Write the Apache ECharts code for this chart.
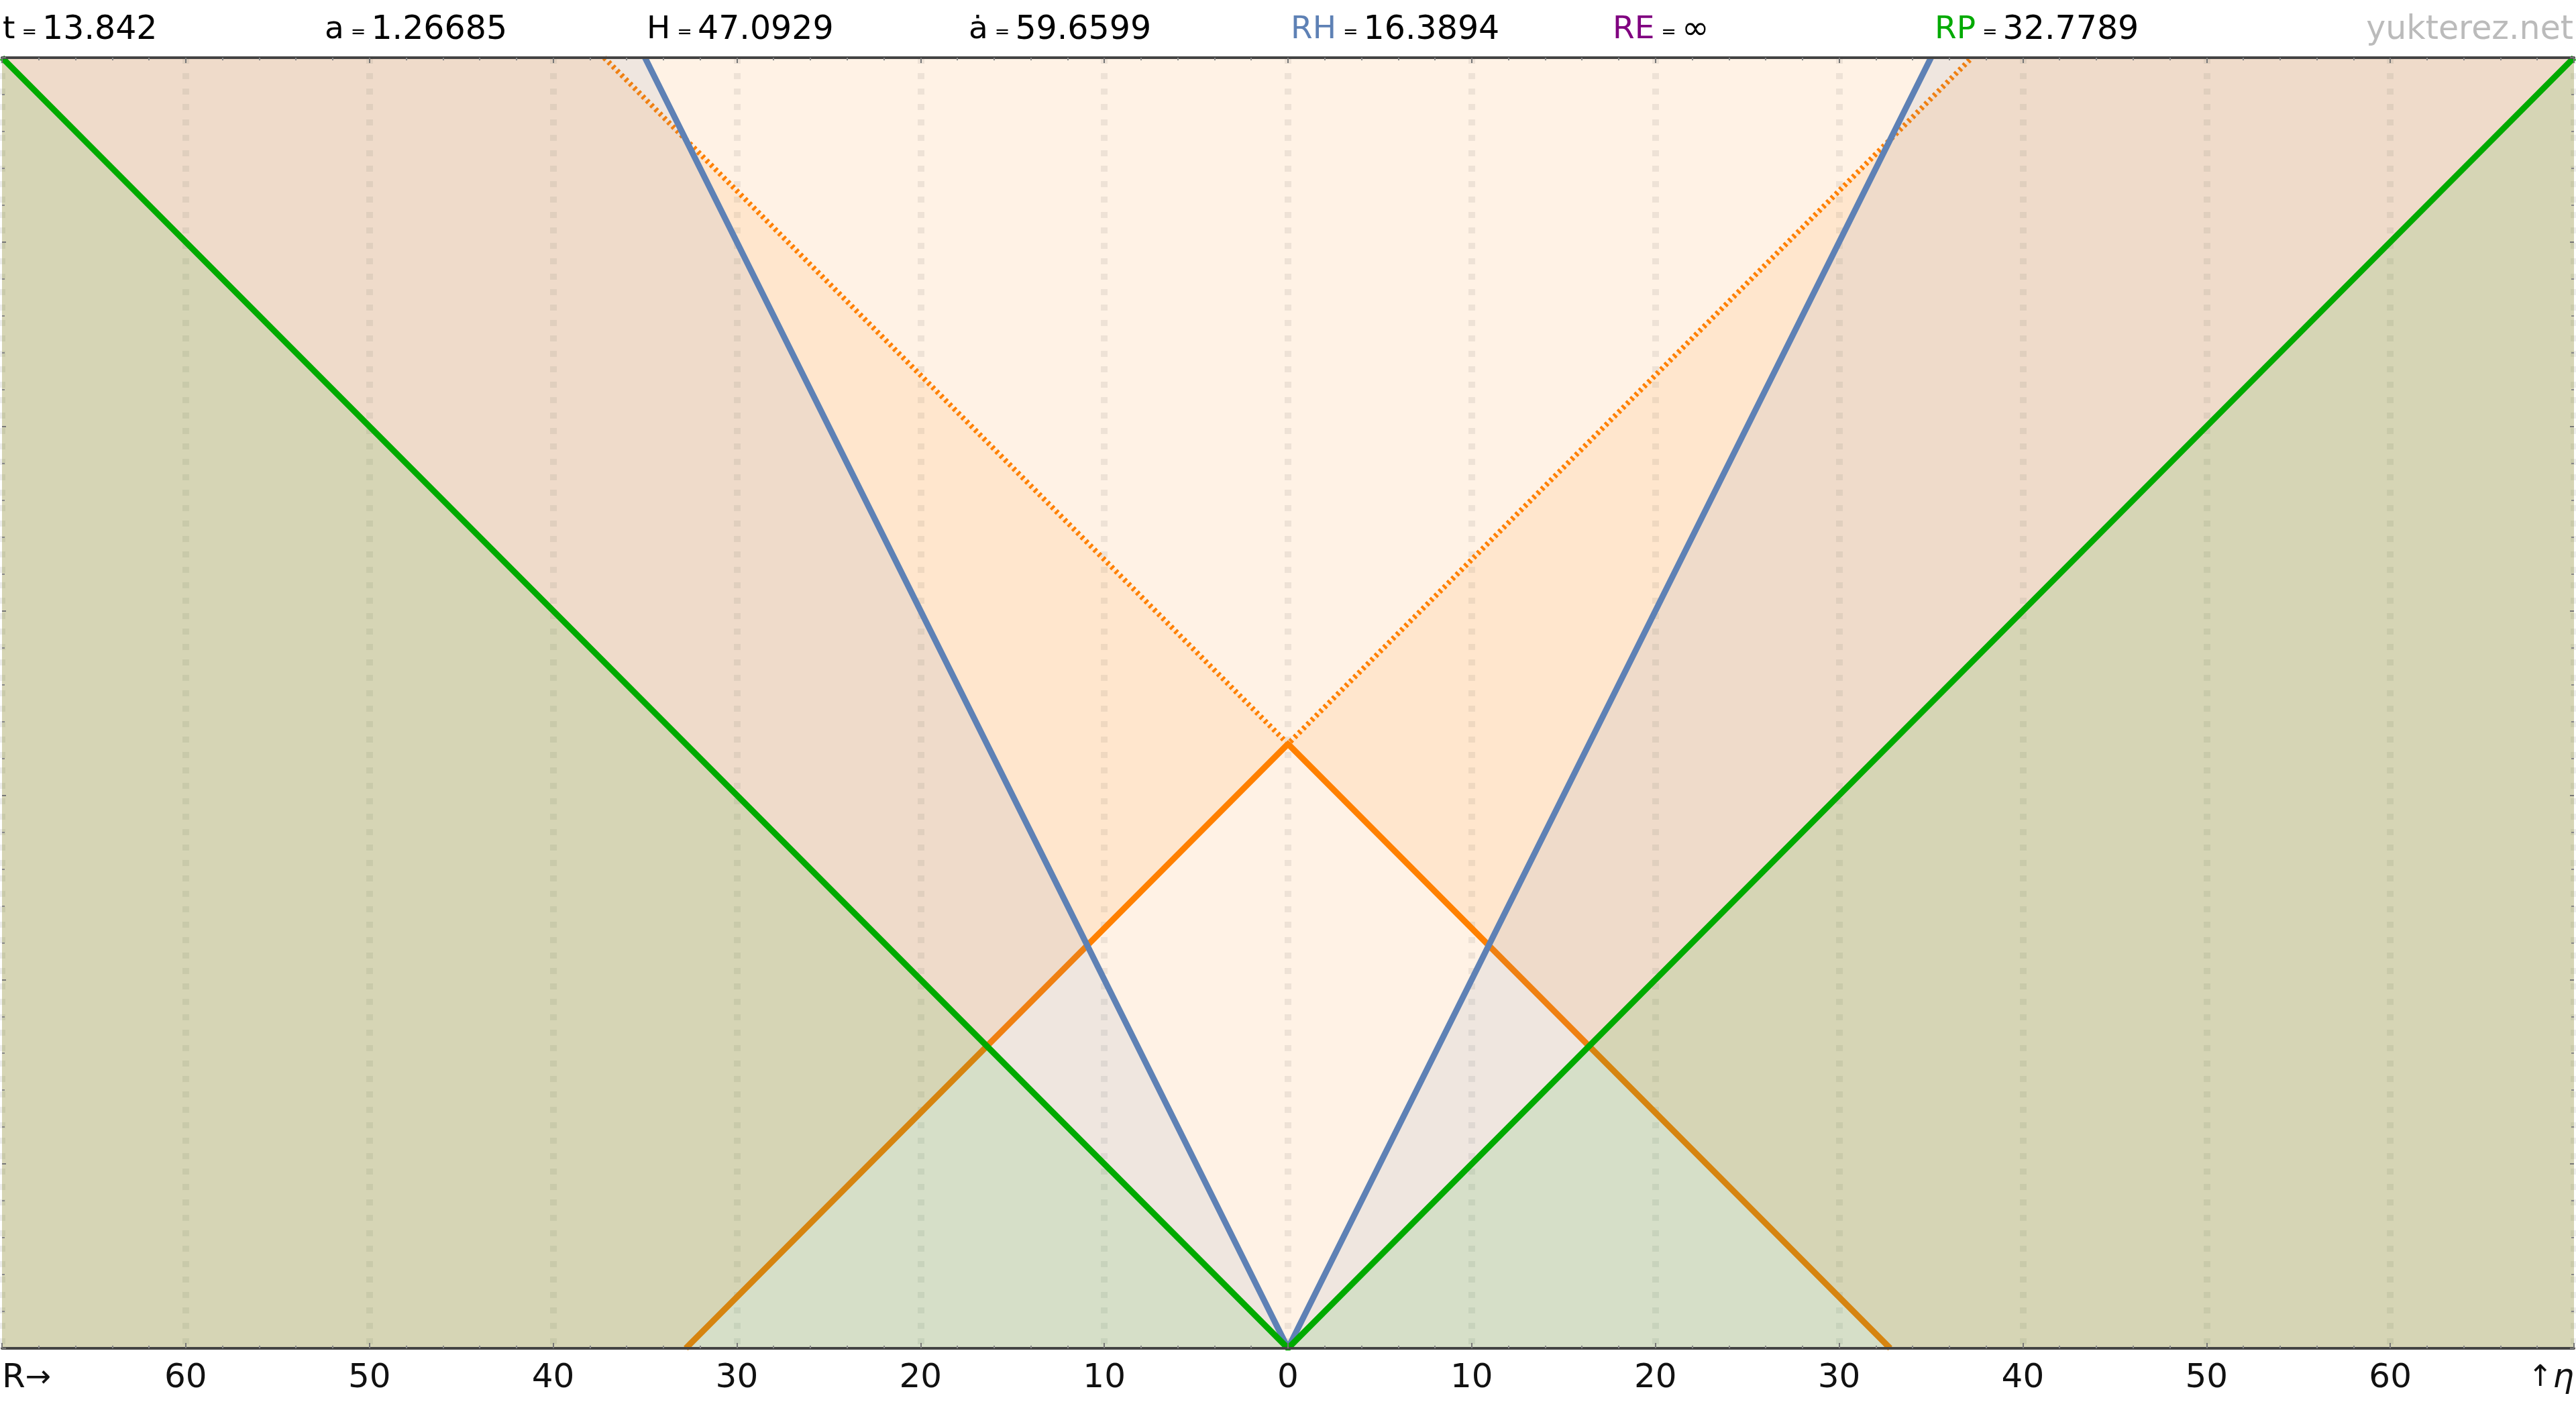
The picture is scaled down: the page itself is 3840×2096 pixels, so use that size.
<!DOCTYPE html>
<html>
<head>
<meta charset="utf-8">
<script src="https://cdn.jsdelivr.net/npm/echarts@6/dist/echarts.min.js"></script>
<style>
html,body{margin:0;padding:0;background:#fff;}
#c{width:3840px;height:2096px;}
</style>
</head>
<body>
<div id="c"></div>
<script>
// ---- data ----
const R_MIN = -70, R_MAX = 70;
const ETA_MIN = 0, ETA_MAX = 70;
const etaNow = 32.7789;     // RP (particle horizon / current conformal time)
const hubbleR = 16.3894;    // RH
const xTickLabels = ['R→','60','50','40','30','20','10','0','10','20','30','40','50','60','↑η'];
const headerNames = ['t','a','H','ȧ','RH','RE','RP'];
const headerValues = ['13.842','1.26685','47.0929','59.6599','16.3894','∞','32.7789'];
const siteLabel = 'yukterez.net';

// derived geometry (from the values above)
const blueTopX = hubbleR / etaNow * ETA_MAX;
const futureTopX = ETA_MAX - etaNow;
const mirror = pts => pts.map(p => [-p[0], p[1]]);

const greenLine = [[-ETA_MAX, ETA_MAX], [0, 0], [ETA_MAX, ETA_MAX]];
const blueLine = [[-blueTopX, ETA_MAX], [0, 0], [blueTopX, ETA_MAX]];
const orangePast = [[-etaNow, 0], [0, etaNow], [etaNow, 0]];
const orangeFuture = [[-futureTopX, ETA_MAX], [0, etaNow], [futureTopX, ETA_MAX]];

const blueRight = [[0, 0], [R_MAX, 0], [R_MAX, ETA_MAX], [blueTopX, ETA_MAX]];
const orangeRight = [[0, etaNow], [etaNow, 0], [R_MAX, 0], [R_MAX, ETA_MAX], [futureTopX, ETA_MAX]];
const greenRight = [[0, 0], [R_MAX, 0], [R_MAX, ETA_MAX]];
const blueRegion = [blueRight, mirror(blueRight)];
const orangeRegion = [orangeRight, mirror(orangeRight)];
const greenRegion = [greenRight, mirror(greenRight)];

// ---- styles ----
const C_OR = '#ff8000', C_BL = '#5e81b5', C_GR = '#00aa00', C_RE = '#800080';
const FONT = 'DejaVu Sans';

function regionSeries(polys, fill, z) {
  return {
    type: 'custom', coordinateSystem: 'cartesian2d', z: z, silent: true, clip: true,
    data: polys.map(p => p[0]),
    renderItem: function (params, api) {
      const pts = polys[params.dataIndex].map(p => api.coord(p));
      return { type: 'polygon', shape: { points: pts }, style: { fill: fill } };
    }
  };
}
function lineSeries(data, color, z, dash, width) {
  return {
    type: 'line', data: data, z: z, symbol: 'none', silent: true, clip: true,
    lineStyle: { color: color, width: width, type: dash || 'solid', cap: 'butt' }
  };
}

const tickAxisX = (pos) => ({
  type: 'value', min: R_MIN, max: R_MAX, interval: 10, position: pos, z: 10,
  axisLine: { show: true, onZero: false, lineStyle: { color: '#444', width: 4 } },
  axisTick: { show: true, inside: true, length: 8, lineStyle: { color: '#777', width: 2 } },
  minorTick: { show: true, splitNumber: 5, length: 4, lineStyle: { color: '#888', width: 2 } },
  axisLabel: { show: false }, splitLine: { show: false }
});
const tickAxisY = (pos) => ({
  type: 'value', min: ETA_MIN, max: ETA_MAX, interval: 10, position: pos, z: 10,
  axisLine: { show: false, onZero: false },
  axisTick: { show: true, inside: true, length: 6, lineStyle: { color: '#777', width: 2 } },
  minorTick: { show: true, splitNumber: 5, length: 4, lineStyle: { color: '#888', width: 2 } },
  axisLabel: { show: false }, splitLine: { show: false }
});

const NAME_SIZE = 47, VAL_SIZE = 49;
const rich = {
  n: { fontFamily: FONT, fontSize: NAME_SIZE, fill: '#000' },
  nb: { fontFamily: FONT, fontSize: NAME_SIZE, fill: C_BL },
  np: { fontFamily: FONT, fontSize: NAME_SIZE, fill: C_RE },
  ng: { fontFamily: FONT, fontSize: NAME_SIZE, fill: C_GR },
  eq: { fontFamily: FONT, fontSize: 27, fill: '#000', padding: [8, 8, 0, 10] },
  v: { fontFamily: FONT, fontSize: VAL_SIZE, fill: '#000' }
};
const nameStyle = ['n', 'n', 'n', 'n', 'nb', 'np', 'ng'];
const graphics = headerNames.map((n, i) => ({
  type: 'text', x: i * 480 + 4, y: 45, silent: true,
  style: {
    text: '{' + nameStyle[i] + '|' + n + '}{eq|=}{v|' + headerValues[i] + '}',
    rich: rich, verticalAlign: 'middle', align: 'left'
  }
}));
graphics.push({
  type: 'text', x: 3836, y: 45, silent: true,
  style: { text: siteLabel, fontFamily: FONT, fontSize: 49, fill: '#bbbbbb', align: 'right', verticalAlign: 'middle' }
});

const chart = echarts.init(document.getElementById('c'), null, { renderer: 'canvas' });
chart.setOption({
  animation: false,
  backgroundColor: '#ffffff',
  grid: { left: 0, right: 0, top: 86, bottom: 86, show: true, borderWidth: 0, backgroundColor: 'rgba(255,128,0,0.1)' },
  xAxis: [
    {
      type: 'value', min: R_MIN, max: R_MAX, interval: 10, position: 'bottom',
      axisLine: { show: false, onZero: false }, axisTick: { show: false },
      splitLine: { show: true, lineStyle: { color: 'rgba(90,90,90,0.1)', width: 10, type: [9, 14], dashOffset: 0 } },
      axisLabel: {
        show: true, margin: 20, fontFamily: FONT, fontSize: 50, color: '#111',
        showMinLabel: true, showMaxLabel: true, alignMinLabel: 'left', alignMaxLabel: 'right',
        formatter: function (v) {
          const s = xTickLabels[Math.round((v - R_MIN) / 10)];
          if (s === 'R→') return '{r|R}{ar|→}';
          if (s === '↑η') return '{au|↑}{eta|η}';
          return s;
        },
        rich: {
          r: { fontFamily: FONT, fontSize: 50, color: '#111' },
          ar: { fontFamily: FONT, fontSize: 46, color: '#111' },
          au: { fontFamily: FONT, fontSize: 44, color: '#111' },
          eta: { fontFamily: FONT, fontSize: 50, fontStyle: 'italic', color: '#111' }
        }
      }
    },
    tickAxisX('bottom'),
    tickAxisX('top')
  ],
  yAxis: [tickAxisY('left'), tickAxisY('right')],
  graphic: graphics,
  series: [
    regionSeries(orangeRegion, 'rgba(255,128,0,0.1)', 2),
    lineSeries(orangePast, C_OR, 3, 'solid', 9),
    lineSeries(orangeFuture, C_OR, 3, [4, 5], 8),
    regionSeries(blueRegion, 'rgba(94,129,181,0.1)', 4),
    lineSeries(blueLine, C_BL, 5, 'solid', 9),
    regionSeries(greenRegion, 'rgba(0,170,0,0.1)', 6),
    lineSeries(greenLine, C_GR, 7, 'solid', 9)
  ]
});
</script>
</body>
</html>
